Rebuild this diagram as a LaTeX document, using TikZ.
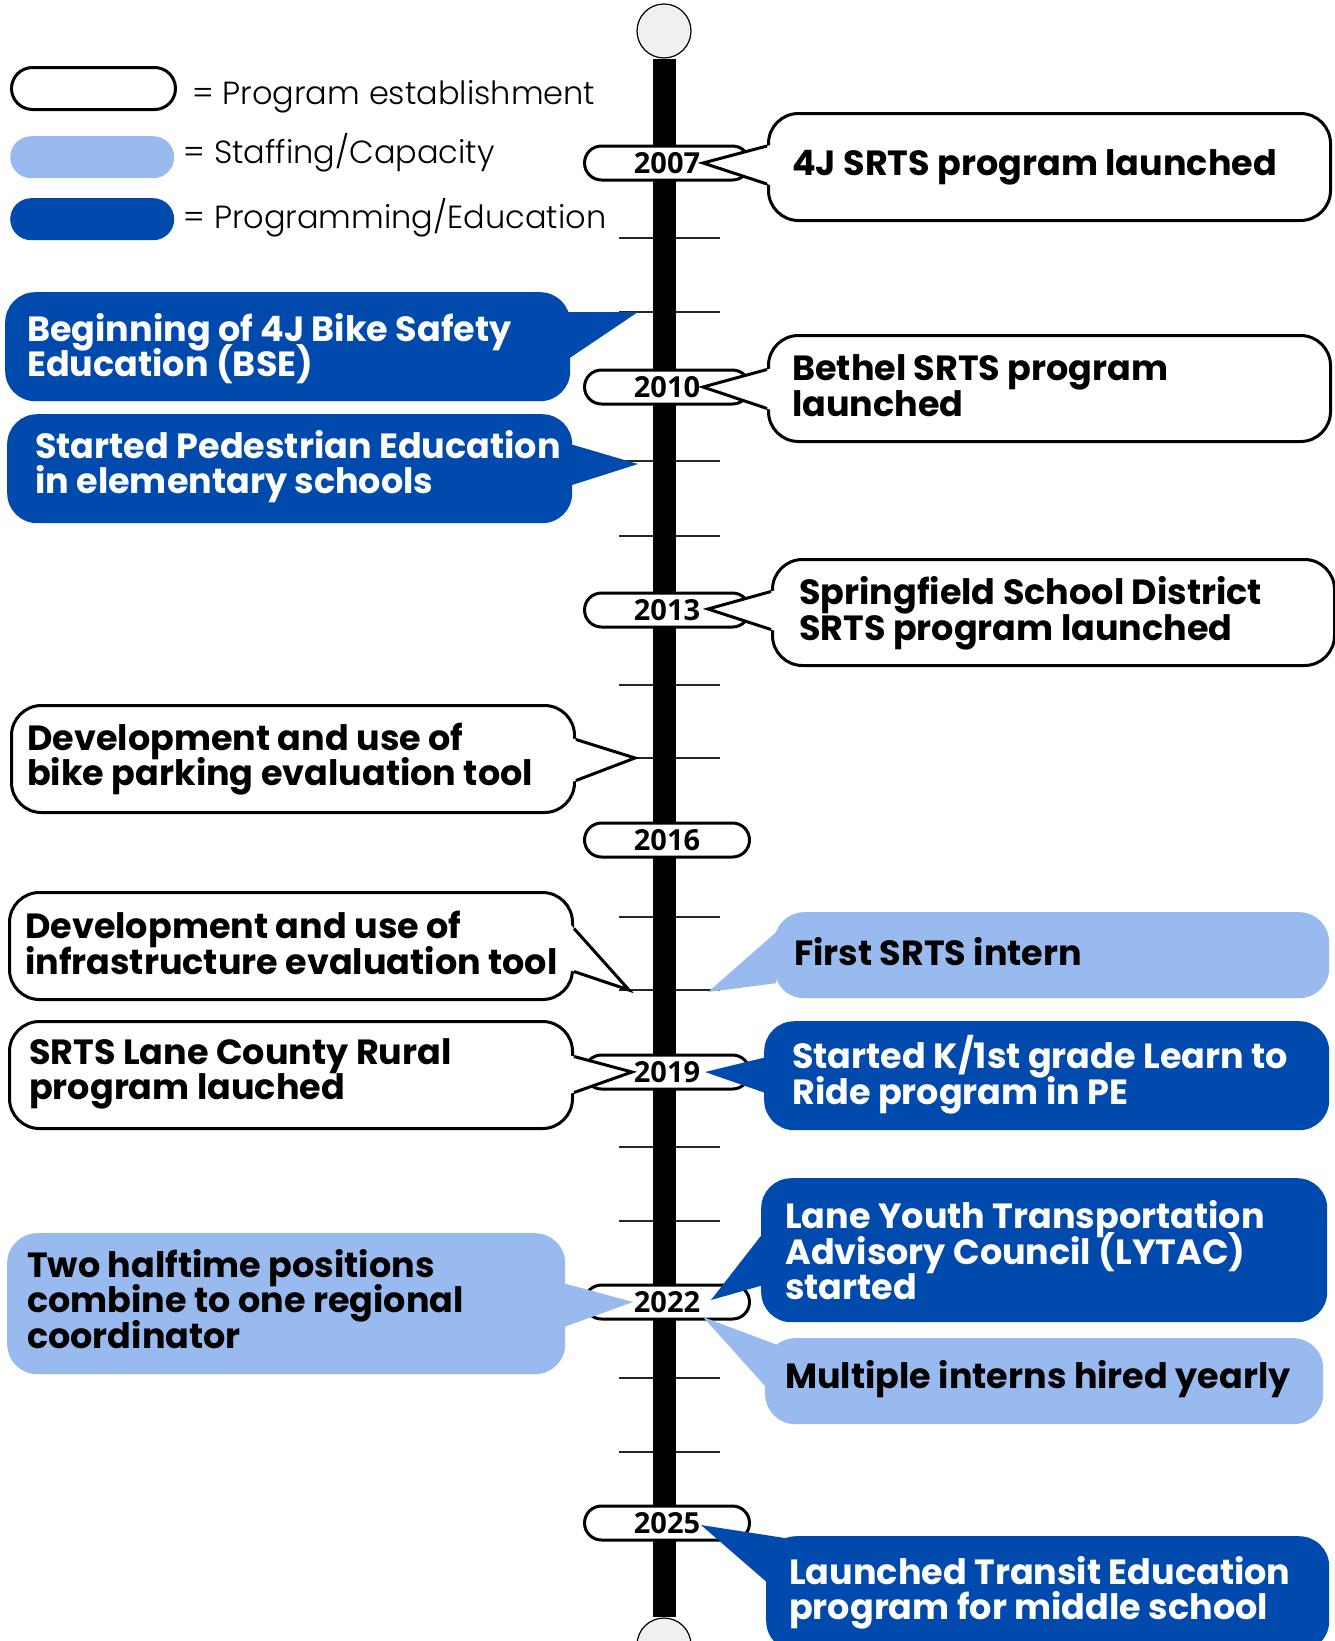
\documentclass[tikz,border=0pt]{standalone}
\usepackage{fontspec}
\setmainfont{Poppins}
\newfontfamily\legendfont{Poppins}[UprightFont=* Light]
\newfontfamily\yearfont{Open Sans}
\usetikzlibrary{calc}
\definecolor{srtsnavy}{HTML}{004AAD}
\definecolor{srtssky}{HTML}{99BAEE}
\definecolor{srtspearl}{HTML}{F0F0F0}
\setlength\lineskiplimit{-40pt}
\tikzset{
  box/.style={rounded corners=30pt, inner sep=0pt, anchor=north west},
  plainbox/.style={box, draw=black, line width=3pt, fill=white},
  skybox/.style={box, fill=srtssky},
  navybox/.style={box, fill=srtsnavy},
  calltext/.style={anchor=west, align=left, inner sep=0pt,
    font=\fontsize{35}{35.5}\selectfont\bfseries},
  navytext/.style={calltext, text=white},
  yearpill/.style={draw=black, line width=3pt, fill=white, rounded corners=17pt,
    minimum width=165pt, minimum height=34pt, inner sep=0pt,
    font=\yearfont\fontsize{29}{29}\selectfont\bfseries},
  keypill/.style={rounded corners=21pt, minimum width=164pt, minimum height=42pt,
    inner sep=0pt, anchor=north west},
  keytext/.style={anchor=west, inner sep=0pt, font=\legendfont\fontsize{32}{32}\selectfont},
  tickmark/.style={draw=black!85, line width=2pt},
  spine/.style={line width=23pt},
  bead/.style={circle, draw=black, line width=1.2pt, fill=srtspearl,
    minimum size=54pt, inner sep=0pt},
  rimline/.style={draw=black, line width=3pt, line join=miter},
}
% pointer of an outlined callout: base a, tip, base b
\newcommand\plainpointer[3]{%
  \coordinate (pa) at (#1); \coordinate (ptip) at (#2); \coordinate (pb) at (#3);
  \fill[white] ($(pa)!-5pt!(ptip)$) -- (pa) -- (ptip) -- (pb) -- ($(pb)!-5pt!(ptip)$) -- cycle;
  \draw[rimline] (pa) -- (ptip) -- (pb);}
% pointer of a filled callout
\newcommand\fillpointer[4]{%
  \fill[#1] (#2) -- (#3) -- (#4) -- cycle;}

\begin{document}
\begin{tikzpicture}[x=1pt, y=-1pt]
\useasboundingbox (0,0) rectangle (1335,1641);

% yearly ticks
\foreach \yr/\ty in {2008/238, 2009/312, 2011/461, 2012/536, 2014/685, 2015/758,
                     2017/917, 2018/990, 2020/1147, 2021/1221, 2023/1378, 2024/1452} {
  \coordinate (t\yr) at (664,\ty);
  \draw[tickmark] ($(t\yr)+(-45,0)$) -- ($(t\yr)+(56,0)$);
}

% spine
\node[bead] (topbead) at (664,31) {};
\node[bead] (botbead) at (664,1645) {};
\draw[spine] (topbead) -- (botbead);

\foreach \yr/\py in {2007/163, 2010/387, 2013/610, 2016/840, 2019/1072, 2022/1302, 2025/1523} {
  \node[yearpill] (y\yr) at (667,\py) {\yr};
}

% legend
\node[keypill, draw=black, line width=3pt, fill=white] (keyplain) at (10,66) {};
\node[keytext] (keyplain-t) at ($(keyplain.east)+(15,8.5)$) {= Program establishment};
\node[keypill, fill=srtssky] (keysky) at (10,136) {};
\node[keytext] (keysky-t) at ($(keysky.east)+(9,-4)$) {= Staffing/Capacity};
\node[keypill, fill=srtsnavy] (keynavy) at (10,198) {};
\node[keytext] (keynavy-t) at ($(keynavy.east)+(9,-1.5)$) {= Programming/Education};

% right side, program establishment
\node[plainbox, minimum width=562pt, minimum height=107pt] (launch4j) at (767,112) {};
\plainpointer{$(launch4j.west)+(0,-21)$}{$(y2007)+(36,0)$}{$(launch4j.west)+(0,17)$}
\node[calltext] (launch4j-t) at ($(launch4j.west)+(25,0)$) {4J SRTS program launched};

\node[plainbox, minimum width=562pt, minimum height=106pt] (bethel) at (767,334) {};
\plainpointer{$(bethel.west)+(0,-19)$}{$(y2010)+(36,0)$}{$(bethel.west)+(0,20)$}
\node[calltext] (bethel-t) at ($(bethel.west)+(25,-3)$) {Bethel SRTS program\\launched};

\node[plainbox, minimum width=562pt, minimum height=106pt] (springfield) at (771,558) {};
\plainpointer{$(springfield.west)+(0,-21)$}{$(y2013)+(41,-1)$}{$(springfield.west)+(0,17)$}
\node[calltext] (springfield-t) at ($(springfield.west)+(28,1)$) {Springfield School District\\SRTS program launched};

% left side, program establishment
\node[plainbox, minimum width=563pt, minimum height=107pt] (bikepark) at (10,704) {};
\plainpointer{$(bikepark.east)+(0,-19.5)$}{$(t2015)+(-29,0)$}{$(bikepark.east)+(0,21.5)$}
\node[calltext] (bikepark-t) at ($(bikepark.west)+(17,0)$) {Development and use of\\bike parking evaluation tool};

\node[plainbox, minimum width=563pt, minimum height=107pt] (infra) at (8,891) {};
\plainpointer{$(infra.east)+(0,-17.5)$}{$(t2018)+(-35,0)$}{$(infra.east)+(0,25.5)$}
\node[calltext] (infra-t) at ($(infra.west)+(17,-3)$) {Development and use of\\infrastructure evaluation tool};

\node[plainbox, minimum width=563pt, minimum height=107pt] (lanerural) at (8,1020) {};
\plainpointer{$(lanerural.east)+(0,-18.5)$}{$(y2019)+(-35,0)$}{$(lanerural.east)+(0,17.5)$}
\node[calltext] (lanerural-t) at ($(lanerural.west)+(21,-1)$) {SRTS Lane County Rural\\program lauched};

% programming / education
\node[navybox, minimum width=565pt, minimum height=109pt] (bse) at (5,292) {};
\fillpointer{srtsnavy}{$(bse.east)+(-3,-34.5)$}{$(t2009)+(-26,0)$}{$(bse.east)+(-1,11.5)$}
\node[navytext] (bse-t) at ($(bse.west)+(22,2)$) {Beginning of 4J Bike Safety\\Education (BSE)};

\node[navybox, minimum width=565pt, minimum height=109pt] (pedestrian) at (7,414) {};
\fillpointer{srtsnavy}{$(pedestrian.east)+(-5,-25.5)$}{$(t2011)+(-26,3)$}{$(pedestrian.east)+(-1,16.5)$}
\node[navytext] (pedestrian-t) at ($(pedestrian.west)+(28,-2)$) {Started Pedestrian Education\\in elementary schools};

\node[navybox, minimum width=565pt, minimum height=109pt] (learnride) at (764,1021) {};
\fillpointer{srtsnavy}{$(learnride.west)+(2,-18.5)$}{$(y2019)+(38,0)$}{$(learnride.west)+(2,17.5)$}
\node[navytext] (learnride-t) at ($(learnride.west)+(28,-1)$) {Started K/1st grade Learn to\\Ride program in PE};

\node[navybox, minimum width=566pt, minimum height=144pt] (lytac) at (761,1178) {};
\fillpointer{srtsnavy}{$(lytac.west)+(2,-17)$}{$(y2022)+(44,-2)$}{$(lytac.west)+(2,35)$}
\node[navytext] (lytac-t) at ($(lytac.west)+(24,0)$) {Lane Youth Transportation\\Advisory Council (LYTAC)\\started};

\node[navybox, minimum width=563pt, minimum height=115pt] (transit) at (766,1536) {};
\fillpointer{srtsnavy}{$(transit.west)+(20,-55.5)$}{$(y2025)+(34,2)$}{$(transit.west)+(2,-10.5)$}
\node[navytext] (transit-t) at ($(transit.west)+(23,-1)$) {Launched Transit Education\\program for middle school};

% staffing / capacity
\node[skybox, minimum width=555pt, minimum height=86pt] (intern1) at (774,912) {};
\fillpointer{srtssky}{$(intern1.west)+(9,-29)$}{$(t2018)+(44,2)$}{$(intern1.west)+(2,28)$}
\node[calltext] (intern1-t) at ($(intern1.west)+(20,-4)$) {First SRTS intern};

\node[skybox, minimum width=558pt, minimum height=141pt] (halftime) at (7,1233) {};
\fillpointer{srtssky}{$(halftime.east)+(-2,-20.5)$}{$(y2022)+(-34,0)$}{$(halftime.east)+(-2,23.5)$}
\node[calltext] (halftime-t) at ($(halftime.west)+(20,-5)$) {Two halftime positions\\combine to one regional\\coordinator};

\node[skybox, minimum width=558pt, minimum height=86pt] (interns) at (765,1338) {};
\fillpointer{srtssky}{$(interns.west)+(13,-36)$}{$(y2022)+(36,15)$}{$(interns.west)+(2,7)$}
\node[calltext] (interns-t) at ($(interns.west)+(20,-2)$) {Multiple interns hired yearly};

\end{tikzpicture}
\end{document}
